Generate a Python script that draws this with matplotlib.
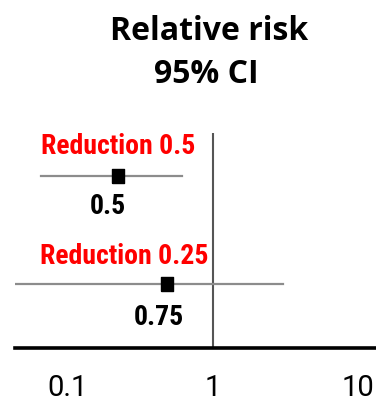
import matplotlib
matplotlib.use("Agg")
import matplotlib.pyplot as plt
from matplotlib import font_manager as fm
import numpy as np

# ---- data ----
row_names = ["Reduction 0.5", "Reduction 0.25"]
row_values = ["0.5", "0.75"]
point_est = [0.221, 0.482]
ci_low = [0.065, 0.043]
ci_high = [0.611, 3.04]
tick_vals = [0.1, 1, 10]
tick_labels = ["0.1", "1", "10"]
title_lines = ["Relative risk", "95% CI"]

# ---- fonts ----
avail = {f.name for f in fm.fontManager.ttflist}
def pick(cands, default="DejaVu Sans"):
    for c in cands:
        if c in avail:
            return c
    return default
cond_font = pick(["Roboto Condensed", "Liberation Sans Narrow", "DejaVu Sans Condensed", "Open Sans Condensed"], "DejaVu Sans")
title_font = pick(["Open Sans", "Lato", "Noto Sans"])
tick_font = pick(["Roboto", "Open Sans"])

W, H = 376, 399
fig = plt.figure(figsize=(W / 100, H / 100), dpi=100)

def px2fig(x, y):
    return x / W, 1 - y / H

left_px, right_px = 15, 376
spine_y, top_y = 348, 133
ax = fig.add_axes([left_px / W, (H - spine_y) / H, (right_px - left_px) / W, (spine_y - top_y) / H])
ax.set_xscale("log")
dec = 145.0
ax.set_xlim(10 ** (-1 - (68 - left_px) / dec), 10 ** (1 + (right_px - 358) / dec))
# rows: y=2 at px 176, y=1 at px 284
ppu = 108.0
ax.set_ylim(1 - (spine_y - 284) / ppu, 2 + (176 - top_y) / ppu)

for s in ["left", "right", "top"]:
    ax.spines[s].set_visible(False)
ax.spines["bottom"].set_linewidth(2.6)
ax.spines["bottom"].set_color("black")
ax.set_yticks([])
ax.set_xticks(tick_vals)
ax.set_xticklabels(tick_labels)
ax.minorticks_off()
ax.tick_params(axis="x", length=0, pad=19, labelsize=21)
for t in ax.get_xticklabels():
    t.set_fontfamily(tick_font)

# reference line at 1
ax.axvline(1, color="#555555", lw=1.5, zorder=1)

ys = [2, 1]
sq = [(-0.4, -0.5), (0.4, -0.5), (0.4, 0.5), (-0.4, 0.5), (-0.4, -0.5)]
for i, y in enumerate(ys):
    ax.plot([ci_low[i], ci_high[i]], [y, y], color="#8c8c8c", lw=1.6, zorder=2)
    ax.plot([point_est[i]], [y], marker=sq, color="black", markersize=10, zorder=3)

# labels (offsets in points)
name_offsets = [(0, 21), (-31, 20)]
val_offsets = [(-7, -22), (-6, -24)]
for i, y in enumerate(ys):
    ax.annotate(row_names[i], (point_est[i], y), xytext=name_offsets[i], textcoords="offset points",
                ha="center", va="center", color="#ff0000", fontsize=20, fontweight="bold",
                family=cond_font)
    ax.annotate(row_values[i], (point_est[i], y), xytext=val_offsets[i], textcoords="offset points",
                ha="center", va="center", color="black", fontsize=20, fontweight="bold",
                family=cond_font)

# title
fig.text(*px2fig(209, 40), title_lines[0], ha="center", va="baseline", fontsize=23,
         fontweight="bold", family=title_font)
fig.text(*px2fig(206, 83), title_lines[1], ha="center", va="baseline", fontsize=23,
         fontweight="bold", family=title_font)

fig.savefig("out.png", dpi=100)
